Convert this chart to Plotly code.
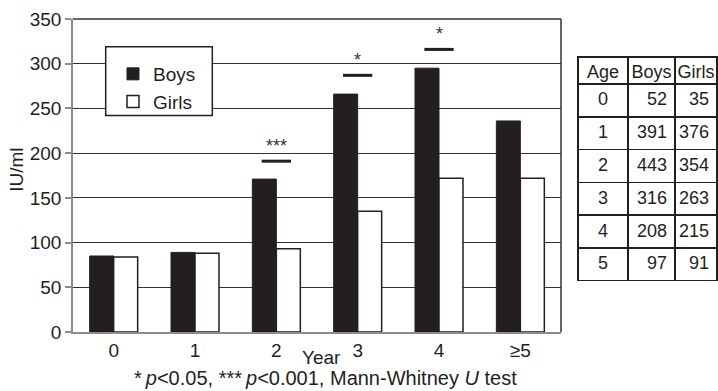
import plotly.graph_objects as go

# ---- data ----
years = ["0", "1", "2", "3", "4", "≥5"]
boys = [85, 89, 171, 266, 295, 236]
girls = [84, 88, 93, 135, 172, 172]
sig_labels = ["", "", "***", "*", "*", ""]
sig_levels = [None, None, 191, 287, 316, None]

table_age = ["0", "1", "2", "3", "4", "5"]
table_boys = ["52", "391", "443", "316", "208", "97"]
table_girls = ["35", "376", "354", "263", "215", "91"]
table_header = ["Age", "Boys", "Girls"]

DARK = "#231f20"
FONT = "Liberation Sans, Arial, sans-serif"

fig = go.Figure()
fig.add_trace(go.Bar(x=years, y=boys, name="Boys",
                     marker=dict(color=DARK, line=dict(color=DARK, width=1))))
fig.add_trace(go.Bar(x=years, y=girls, name="Girls",
                     marker=dict(color="white", line=dict(color=DARK, width=1.5))))

fig.add_trace(go.Table(
    domain=dict(x=[0.783, 1.0], y=[0.16, 0.8787]),
    columnwidth=[50, 47, 42],
    header=dict(values=table_header, height=27,
                align=["center", "center", "center"],
                line=dict(color=DARK, width=1.5), fill=dict(color="white"),
                font=dict(family=FONT, size=18, color=DARK)),
    cells=dict(values=[table_age, table_boys, table_girls], height=32.8,
               align=["center", "right", "right"],
               line=dict(color=DARK, width=1.5), fill=dict(color="white"),
               font=dict(family=FONT, size=18, color=DARK)),
))

shapes = []
annotations = []
for i, (lab, lev) in enumerate(zip(sig_labels, sig_levels)):
    if lev is None:
        continue
    shapes.append(dict(type="line", xref="x", yref="y", x0=i - 0.18, x1=i + 0.18,
                       y0=lev, y1=lev, line=dict(color=DARK, width=3)))
    annotations.append(dict(x=i, y=lev, xref="x", yref="y", text=lab, showarrow=False,
                            yanchor="middle", yshift=15,
                            font=dict(family=FONT, size=18, color="#333")))

# plot frame: top and right borders
shapes.append(dict(type="line", xref="x domain", yref="y domain", x0=0, x1=1, y0=1, y1=1,
                   line=dict(color="#333", width=1.5)))
shapes.append(dict(type="line", xref="x domain", yref="y domain", x0=1, x1=1, y0=0, y1=1,
                   line=dict(color="#333", width=1.5)))
# legend frame
shapes.append(dict(type="rect", xref="paper", yref="paper", x0=0.0507, x1=0.216,
                   y0=0.6913, y1=0.9116, layer="above",
                   fillcolor="white", line=dict(color=DARK, width=1.5)))

annotations += [
    dict(text="IU/ml", xref="paper", yref="paper", x=-0.087, y=0.518, textangle=-90,
         showarrow=False, xanchor="center", yanchor="middle",
         font=dict(family=FONT, size=19, color=DARK)),
    dict(text="Year", xref="paper", yref="paper", x=0.3856, y=-0.083, showarrow=False,
         xanchor="center", yanchor="middle", font=dict(family=FONT, size=19, color=DARK)),
    dict(text="*\u2009<i>p</i><0.05, ***\u2009<i>p</i><0.001, Mann-Whitney <i>U</i> test",
         xref="paper", yref="paper", x=0.392, y=-0.1459, showarrow=False,
         xanchor="center", yanchor="middle", font=dict(family=FONT, size=20, color=DARK)),
]

fig.update_layout(
    width=718, height=391,
    margin=dict(l=73, r=0, t=19, b=59),
    paper_bgcolor="white", plot_bgcolor="white",
    barmode="group", bargap=0.41, bargroupgap=0,
    font=dict(family=FONT, size=19, color=DARK),
    showlegend=True,
    legend=dict(x=0.062, y=0.885, xanchor="left", yanchor="top",
                bgcolor="rgba(0,0,0,0)", borderwidth=0,
                font=dict(family=FONT, size=19, color=DARK)),
    xaxis=dict(domain=[0, 0.7566], type="category", range=[-0.5, 5.5],
               showline=True, linecolor="#8c8c8c", linewidth=1.5,
               showgrid=False, ticks="", tickfont=dict(size=19)),
    yaxis=dict(range=[0, 350], dtick=50, showline=True, linecolor="#8c8c8c", linewidth=1.5,
               ticks="outside", ticklen=6, tickcolor="#8c8c8c", tickwidth=1.5,
               showgrid=True, gridcolor="#333", gridwidth=1.2, zeroline=False,
               tickfont=dict(size=19)),
    shapes=shapes, annotations=annotations,
)

fig.write_html("out.html", config={"displayModeBar": False},
               post_script="document.body.style.margin='0';")
